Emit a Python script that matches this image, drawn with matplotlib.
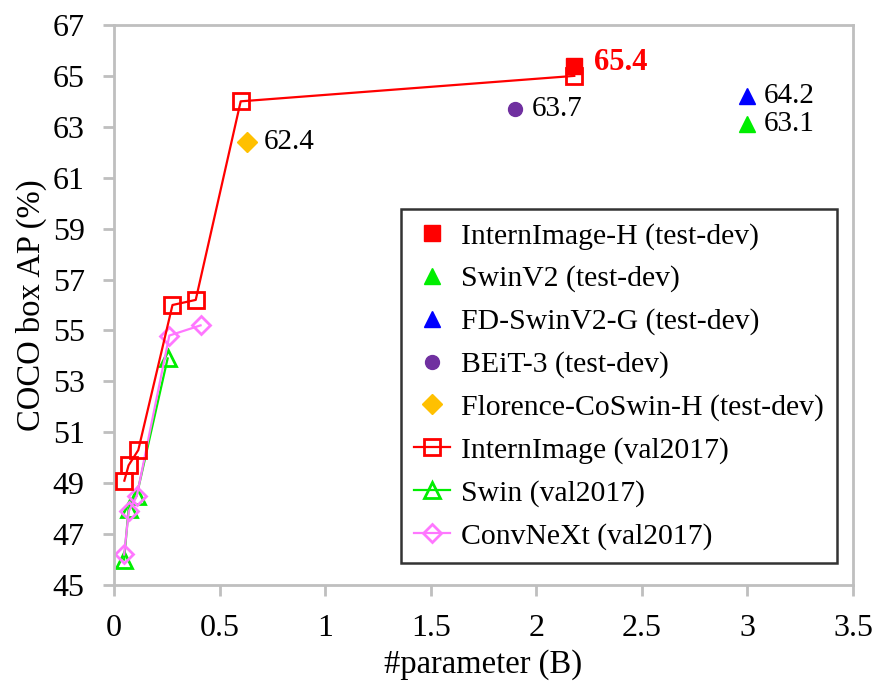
import matplotlib

matplotlib.use("Agg")
import matplotlib.pyplot as plt

plt.rcParams["font.family"] = ["Liberation Serif", "DejaVu Serif"]

# val2017 curves: params (B) and box AP
internimage_x = [0.049, 0.069, 0.115, 0.277, 0.387, 0.60, 2.18]
internimage_y = [49.1, 49.7, 50.3, 56.0, 56.2, 64.0, 65.0]
swin_x = [0.048, 0.069, 0.107, 0.254]
swin_y = [46.0, 48.0, 48.5, 53.9]
convnext_x = [0.048, 0.070, 0.108, 0.262, 0.41]
convnext_y = [46.2, 47.9, 48.5, 54.8, 55.2]

# test-dev single points
internimage_h = (2.18, 65.4)
swinv2 = (3.0, 63.1)
fd_swinv2_g = (3.0, 64.2)
beit3 = (1.9, 63.7)
florence = (0.63, 62.4)

x_ticks = [0, 0.5, 1, 1.5, 2, 2.5, 3, 3.5]
x_tick_labels = ["0", "0.5", "1", "1.5", "2", "2.5", "3", "3.5"]
y_ticks = list(range(45, 68, 2))

fig = plt.figure(figsize=(8.79, 6.84), dpi=100)
ax = fig.add_axes([0.1297, 0.1447, 0.8407, 0.8188])

ax.plot(*internimage_h, "s", color="#ff0000", ms=11, zorder=3,
        label="InternImage-H (test-dev)")
ax.plot(*swinv2, "^", color="#00ee00", ms=12, zorder=3,
        label="SwinV2 (test-dev)")
ax.plot(*fd_swinv2_g, "^", color="#0000ff", ms=12, zorder=3,
        label="FD-SwinV2-G (test-dev)")
ax.plot(*beit3, "o", color="#7030a0", ms=10, zorder=3,
        label="BEiT-3 (test-dev)")
ax.plot(*florence, "D", color="#ffc000", ms=10, zorder=3,
        label="Florence-CoSwin-H (test-dev)")

ax.plot(internimage_x, internimage_y, "-s", color="#ff0000", lw=1.6,
        ms=11, mfc="none", mew=2, zorder=4, label="InternImage (val2017)")
ax.plot(swin_x, swin_y, "-^", color="#00ee00", lw=1.6,
        ms=11, mfc="none", mew=2, zorder=2, label="Swin (val2017)")
ax.plot(convnext_x, convnext_y, "-D", color="#ff77ff", lw=1.6,
        ms=9, mfc="none", mew=2, zorder=2, label="ConvNeXt (val2017)")

# value annotations
ax.annotate("65.4", internimage_h, xytext=(14, 2), textcoords="offset points",
            va="center", ha="left", fontsize=22, fontweight="bold", color="#ff0000")
for pt, txt in [(beit3, "63.7"), (florence, "62.4"),
                (fd_swinv2_g, "64.2"), (swinv2, "63.1")]:
    ax.annotate(txt, pt, xytext=(12, 0), textcoords="offset points",
                va="center", ha="left", fontsize=21, color="black")

ax.set_xlim(0, 3.5)
ax.set_ylim(45, 67)
ax.set_xticks(x_ticks)
ax.set_xticklabels(x_tick_labels)
ax.set_yticks(y_ticks)

for s in ax.spines.values():
    s.set_color("#bfbfbf")
    s.set_linewidth(2)
ax.tick_params(axis="both", colors="#bfbfbf", width=2, length=8,
               labelsize=23, labelcolor="black", pad=13)

ax.set_xlabel("#parameter (B)", fontsize=23.5, labelpad=4)
ax.set_ylabel("COCO box AP (%)", fontsize=23.5, labelpad=4)

leg = ax.legend(loc="lower right", bbox_to_anchor=(0.978, 0.039),
                borderaxespad=0, fontsize=21.4,
                frameon=True, fancybox=False, edgecolor="black",
                handlelength=1.2, labelspacing=0.53, borderpad=0.45,
                handletextpad=0.37)
leg.get_frame().set_linewidth(1.8)

fig.savefig("out.png", dpi=100)
